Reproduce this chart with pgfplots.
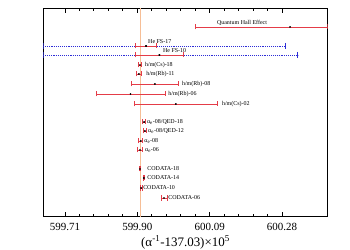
\documentclass[border=0pt]{standalone}
\usepackage{pgfplots}
\pgfplotsset{compat=1.18}
\usepackage{pgfplotstable}
\usepackage{fontspec}
\setmainfont{Liberation Serif}
\definecolor{barred}{RGB}{228,60,72}
\definecolor{barblue}{RGB}{45,45,215}
\definecolor{refline}{RGB}{246,190,150}
\newcommand{\lbl}{\fontsize{6}{7}\selectfont}

\pgfplotstableread{
x y em ep
600.301 -27 0.249 0.099
599.923 -46 0.0276 0.0276
599.958 -55 0.064 0.064
599.907 -65 0.004 0.004
599.904 -74 0.0066 0.0066
599.946 -84 0.061 0.061
599.882 -94 0.0906 0.0906
600.001 -104 0.110 0.110
599.918 -122 0.004 0.004
599.920 -131 0.004 0.004
599.909 -141 0.005 0.005
599.907 -150 0.0066 0.0066
599.907 -169 0.002 0.002
599.917 -178 0.002 0.002
599.910 -188 0.003 0.003
599.970 -198 0.008 0.008
}\reddata

\pgfplotstableread{
x y em ep
599.923 -46 0.270 0.365
599.958 -55 0.305 0.363
}\bluedata

\begin{document}
\begin{tikzpicture}
\useasboundingbox (-43.3bp,-33.3bp) rectangle (306.7bp,216.7bp);
\begin{axis}[
  at={(0,0)}, anchor=south west,
  scale only axis, width=284.4bp, height=208.2bp,
  xmin=599.653, xmax=600.40, ymin=-216.7, ymax=-8.5,
  ytick=\empty,
  xtick={599.71,599.90,600.09,600.28},
  xticklabels={599.71,599.90,600.09,600.28},
  minor x tick num=4,
  xtick align=inside,
  major tick length=5bp, minor tick length=3bp,
  xtick style={black, line width=0.9pt},
  xticklabel style={font=\fontsize{11}{12}\selectfont, yshift=-3bp},
  xlabel={(α\textsuperscript{-1}-137.03)×10\textsuperscript{5}},
  xlabel style={font=\fontsize{13}{15}\selectfont, at={(axis description cs:0.5,0)}, anchor=north, yshift=-19bp, inner sep=0pt},
  axis line style={line width=1.1pt},
]
\addplot[refline, line width=1.3pt, forget plot] coordinates {(599.908,-8.5) (599.908,-216.7)};

\addplot[barblue, only marks, mark=*, mark size=0.6bp, mark options={black},
  error bars/.cd, x dir=both, x explicit, error mark=|,
  error bar style={color=barblue, line width=0.9pt, densely dotted},
  error mark options={color=barblue, mark size=3bp, line width=0.8pt, solid}]
  table[x=x, y=y, x error plus=ep, x error minus=em] {\bluedata};

\addplot[barred, only marks, mark=*, mark size=0.7bp, mark options={black},
  error bars/.cd, x dir=both, x explicit, error mark=|,
  error bar style={color=barred, line width=0.8pt},
  error mark options={color=barred, mark size=2.5bp, line width=0.8pt}]
  table[x=x, y=y, x error plus=ep, x error minus=em] {\reddata};

\node[font=\lbl, inner sep=0pt] at (axis cs:600.175,-23) {Quantum Hall Effect};
\node[font=\lbl, anchor=west, inner sep=0pt] at (axis cs:599.928,-41.5) {He FS-17};
\node[font=\lbl, anchor=west, inner sep=0pt] at (axis cs:599.967,-51) {He FS-10};
\node[font=\lbl, anchor=west, inner sep=0pt] at (axis cs:599.920,-65) {h/m(Cs)-18};
\node[font=\lbl, anchor=west, inner sep=0pt] at (axis cs:599.923,-74) {h/m(Rb)-11};
\node[font=\lbl, anchor=west, inner sep=0pt] at (axis cs:600.017,-84) {h/m(Rb)-08};
\node[font=\lbl, anchor=west, inner sep=0pt] at (axis cs:599.981,-94) {h/m(Rb)-06};
\node[font=\lbl, anchor=west, inner sep=0pt] at (axis cs:600.122,-104) {h/m(Cs)-02};
\node[font=\lbl, anchor=west, inner sep=0pt] at (axis cs:599.925,-122) {α\textsubscript{e}-08/QED-18};
\node[font=\lbl, anchor=west, inner sep=0pt] at (axis cs:599.928,-131) {α\textsubscript{e}-08/QED-12};
\node[font=\lbl, anchor=west, inner sep=0pt] at (axis cs:599.918,-141) {α\textsubscript{e}-08};
\node[font=\lbl, anchor=west, inner sep=0pt] at (axis cs:599.920,-150) {α\textsubscript{e}-06};
\node[font=\lbl, anchor=west, inner sep=0pt] at (axis cs:599.926,-169) {CODATA-18};
\node[font=\lbl, anchor=west, inner sep=0pt] at (axis cs:599.926,-178) {CODATA-14};
\node[font=\lbl, anchor=west, inner sep=0pt] at (axis cs:599.915,-188) {CODATA-10};
\node[font=\lbl, anchor=west, inner sep=0pt] at (axis cs:599.981,-198) {CODATA-06};
\end{axis}
\end{tikzpicture}
\end{document}
